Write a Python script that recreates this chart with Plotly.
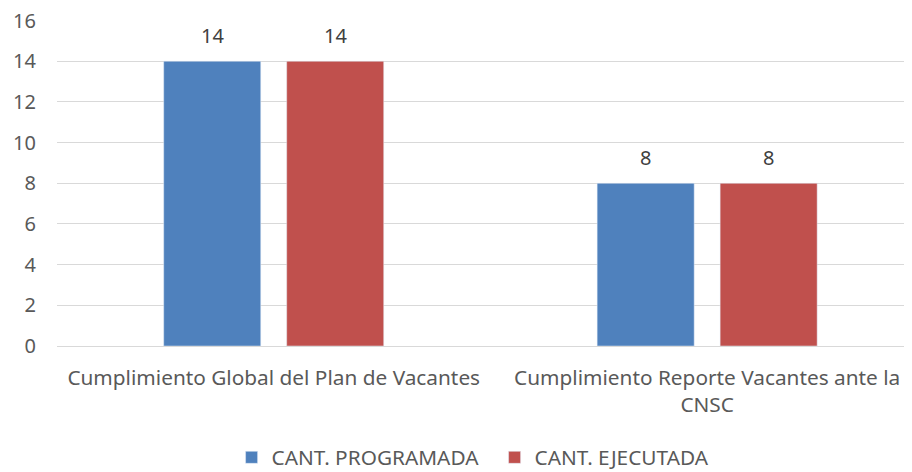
import plotly.graph_objects as go

categories = ["Cumplimiento Global del Plan de Vacantes",
              "Cumplimiento Reporte Vacantes ante la<br>CNSC"]
programada = [14, 8]
ejecutada = [14, 8]

font_name = "Noto Sans"
text_color = "#595959"
label_color = "#404040"
fsize = 20

fig = go.Figure()
fig.add_trace(go.Bar(x=categories, y=programada, name="CANT. PROGRAMADA",
                     marker_color="#4F81BD"))
fig.add_trace(go.Bar(x=categories, y=ejecutada, name="CANT. EJECUTADA",
                     marker_color="#C0504D"))

# value labels above the bars (shifted half a bar slot left/right)
for vals, shift in [(programada, -61.5), (ejecutada, 61.5)]:
    for c, v in zip(categories, vals):
        fig.add_annotation(x=c, y=v, text=str(v), showarrow=False,
                           xshift=shift, yshift=26,
                           font=dict(size=fsize, color=label_color))

# page body has an 8px margin, so margins are trimmed to compensate
fig.update_layout(
    width=912, height=472,
    margin=dict(l=49, r=10, t=12, b=134),
    plot_bgcolor="white", paper_bgcolor="white",
    font=dict(family=font_name, size=fsize, color=text_color),
    barmode="group", bargap=0.4325, bargroupgap=0.211,
    showlegend=True,
    legend=dict(orientation="h", x=0.513, xanchor="center",
                yref="container", y=0.047, yanchor="middle",
                font=dict(size=20.8, color=text_color), itemwidth=30,
                entrywidth=218, entrywidthmode="pixels"),
    xaxis=dict(range=[-0.5, 1.468], showgrid=False, ticks="", showline=False,
               automargin=False, ticklabelstandoff=17,
               tickfont=dict(size=20.8, color=text_color)),
    yaxis=dict(range=[0, 16.03], tickmode="linear", tick0=0, dtick=2,
               showgrid=True, gridcolor="#D9D9D9", gridwidth=1,
               zeroline=True, zerolinecolor="#D9D9D9", zerolinewidth=1,
               ticks="", ticklabelstandoff=20, automargin=False,
               ticklabeloverflow="allow",
               tickfont=dict(size=fsize, color=text_color)),
)

fig.write_html("out.html")
